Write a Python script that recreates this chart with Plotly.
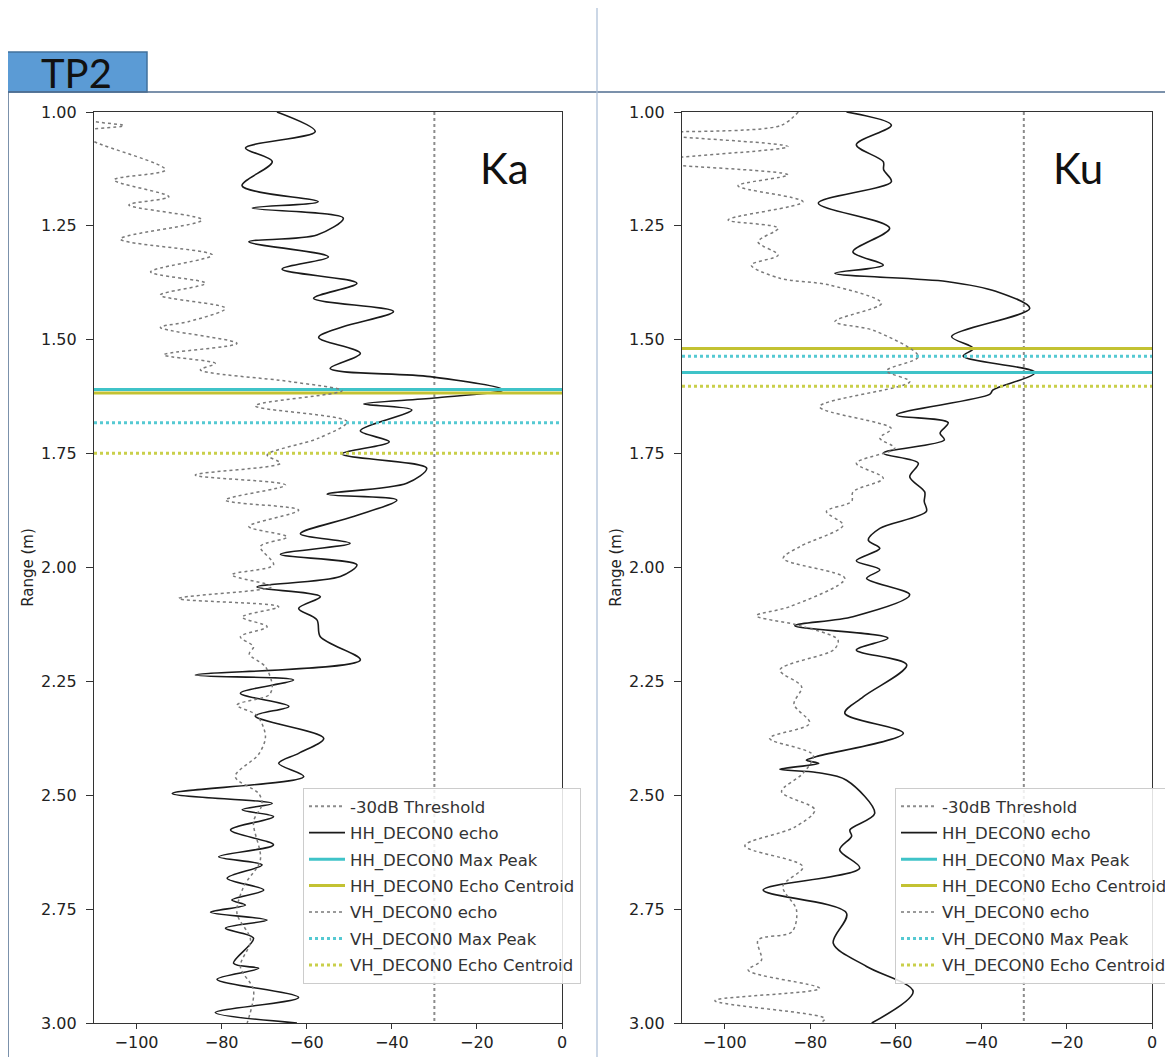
import plotly.graph_objects as go

# The page body has an 8px margin, so the figure is placed 8px in and sized to fit the window.
OFF = 8
W, H = 1173 - OFF, 1057 - OFF

# ---------------- data ----------------
X_RANGE = [-110, 0]
Y_RANGE = [1.0, 3.0]
THRESHOLD_DB = -30
x_ticks = [-100, -80, -60, -40, -20, 0]
y_ticks = [1.00, 1.25, 1.50, 1.75, 2.00, 2.25, 2.50, 2.75, 3.00]

# Ka band
ka_hh_range = [1.000, 1.043, 1.079, 1.109, 1.162, 1.197, 1.211, 1.233, 1.270, 1.285, 1.318, 1.345,
               1.376, 1.409, 1.438, 1.471, 1.495, 1.530, 1.563, 1.581, 1.610, 1.628, 1.641, 1.654,
               1.700, 1.724, 1.751, 1.782, 1.815, 1.839, 1.852, 1.888, 1.926, 1.947, 1.971, 1.994,
               2.020, 2.043, 2.064, 2.090, 2.115, 2.152, 2.203, 2.236, 2.247, 2.276, 2.305, 2.326,
               2.375, 2.408, 2.430, 2.459, 2.496, 2.518, 2.532, 2.547, 2.576, 2.609, 2.635, 2.653,
               2.682, 2.708, 2.730, 2.741, 2.757, 2.774, 2.792, 2.814, 2.869, 2.880, 2.904, 2.944,
               2.977, 3.000]
ka_hh_db = [-67.0, -58.0, -74.4, -68.1, -75.2, -57.3, -72.8, -51.4, -57.6, -73.6, -54.9, -65.8,
            -48.2, -58.4, -39.6, -51.3, -57.2, -47.4, -54.5, -31.0, -13.8, -30.0, -46.6, -35.3,
            -47.4, -40.6, -51.7, -31.8, -36.5, -55.2, -38.8, -49.0, -61.5, -49.8, -66.2, -48.2,
            -52.1, -71.7, -56.8, -61.9, -57.6, -56.8, -47.4, -86.2, -63.1, -75.6, -64.2, -72.1,
            -56.0, -61.9, -66.6, -60.7, -91.6, -68.1, -75.2, -67.8, -77.9, -67.8, -80.7, -70.5,
            -78.7, -70.1, -77.6, -74.4, -82.6, -69.3, -79.1, -72.5, -77.2, -71.3, -81.1, -61.9,
            -81.5, -62.3]

ka_vh_range = [1.000, 1.015, 1.030, 1.044, 1.065, 1.127, 1.149, 1.186, 1.204, 1.237, 1.279, 1.314,
               1.351, 1.376, 1.402, 1.431, 1.460, 1.473, 1.508, 1.533, 1.552, 1.566, 1.592, 1.612,
               1.645, 1.680, 1.716, 1.753, 1.771, 1.797, 1.819, 1.852, 1.874, 1.910, 1.933, 1.954,
               1.994, 2.016, 2.042, 2.068, 2.086, 2.109, 2.130, 2.152, 2.174, 2.190, 2.218, 2.261,
               2.280, 2.302, 2.325, 2.371, 2.410, 2.459, 2.496, 2.520, 2.558, 2.642, 2.700, 2.759,
               2.818, 2.876, 2.928, 3.000]
ka_vh_db = [-112.0, -112.0, -103.0, -114.0, -110.0, -93.2, -105.3, -92.4, -101.8, -84.6, -103.8, -82.2,
            -96.7, -83.8, -94.4, -79.1, -87.7, -94.4, -76.4, -93.6, -81.5, -85.0, -63.8, -51.7,
            -72.1, -50.5, -57.2, -69.3, -66.2, -86.2, -65.0, -79.1, -61.9, -73.6, -64.6, -70.9,
            -67.8, -77.6, -68.1, -90.1, -66.6, -75.2, -69.3, -75.6, -72.5, -73.5, -69.7, -68.1,
            -68.9, -76.4, -71.7, -69.7, -71.3, -76.8, -71.3, -70.5, -72.5, -70.9, -74.8, -76.4,
            -73.2, -75.6, -72.5, -74.0]

ka_hh_max_peak = 1.609
ka_hh_centroid = 1.617
ka_vh_max_peak = 1.682
ka_vh_centroid = 1.749

# Ku band
ku_hh_range = [1.000, 1.029, 1.072, 1.109, 1.127, 1.153, 1.200, 1.255, 1.307, 1.336, 1.354, 1.372,
               1.394, 1.431, 1.493, 1.519, 1.536, 1.572, 1.610, 1.620, 1.665, 1.682, 1.705, 1.720,
               1.749, 1.771, 1.801, 1.834, 1.855, 1.877, 1.914, 1.940, 1.958, 1.985, 2.005, 2.024,
               2.060, 2.108, 2.128, 2.155, 2.181, 2.214, 2.284, 2.320, 2.364, 2.415, 2.423, 2.430,
               2.443, 2.450, 2.467, 2.540, 2.576, 2.590, 2.620, 2.660, 2.708, 2.759, 2.825, 2.876,
               2.931, 3.000]
ku_hh_db = [-71.5, -61.0, -69.2, -62.9, -62.8, -61.0, -78.1, -61.4, -70.0, -62.9, -74.2, -48.1,
            -36.4, -28.6, -46.9, -41.8, -44.2, -27.4, -37.2, -38.0, -59.8, -47.7, -49.6, -48.6,
            -62.9, -54.7, -56.7, -53.2, -53.3, -52.8, -63.7, -66.4, -63.7, -69.2, -63.7, -66.8,
            -56.7, -70.0, -83.6, -61.8, -69.2, -57.4, -67.6, -71.9, -58.2, -78.5, -80.9, -78.0,
            -87.1, -78.5, -71.5, -64.9, -70.7, -70.3, -73.1, -68.4, -91.0, -71.5, -74.6, -66.8,
            -55.9, -65.6]

ku_vh_range = [1.000, 1.030, 1.047, 1.076, 1.109, 1.138, 1.162, 1.197, 1.237, 1.255, 1.285, 1.314,
               1.336, 1.365, 1.380, 1.420, 1.460, 1.480, 1.537, 1.568, 1.592, 1.647, 1.695, 1.716,
               1.738, 1.771, 1.804, 1.834, 1.855, 1.877, 1.907, 1.954, 1.980, 2.024, 2.086, 2.106,
               2.126, 2.159, 2.180, 2.225, 2.262, 2.300, 2.342, 2.375, 2.412, 2.452, 2.492, 2.532,
               2.570, 2.611, 2.657, 2.700, 2.752, 2.800, 2.818, 2.862, 2.884, 2.924, 2.951, 2.990,
               3.000]
ku_vh_db = [-82.8, -87.0, -118.0, -85.2, -118.0, -85.2, -96.9, -81.7, -99.2, -87.5, -92.2, -87.5,
            -93.8, -87.1, -75.4, -63.3, -74.2, -65.0, -54.7, -62.1, -56.7, -77.8, -61.0, -63.7,
            -60.2, -69.2, -62.9, -70.0, -70.3, -76.2, -72.3, -82.4, -86.3, -71.9, -84.8, -92.6,
            -83.2, -73.5, -74.4, -87.1, -82.0, -83.8, -80.1, -89.5, -79.3, -81.7, -86.7, -78.9,
            -83.6, -95.3, -81.7, -86.4, -83.2, -84.3, -92.2, -91.4, -94.5, -77.8, -102.3, -76.6,
            -77.5]

ku_hh_max_peak = 1.572
ku_hh_centroid = 1.519
ku_vh_max_peak = 1.536
ku_vh_centroid = 1.602

legend_names = ["-30dB Threshold", "HH_DECON0 echo", "HH_DECON0 Max Peak",
                "HH_DECON0 Echo Centroid", "VH_DECON0 echo", "VH_DECON0 Max Peak",
                "VH_DECON0 Echo Centroid"]

# ---------------- styling ----------------
CYAN = "#3fc3c8"
OLIVE = "#c3c232"
CYAN_DOT = "#55c9d2"
OLIVE_DOT = "#c9cf4a"
GRAY = "#8c8c8c"
FONT = "DejaVu Sans"


def px(x):
    return (x - OFF) / W


def py(y):
    return 1 - (y - OFF) / H


fig = go.Figure()


def add_panel(xa, ya, leg, hh_r, hh_db, vh_r, vh_db, hh_pk, hh_ct, vh_pk, vh_ct):
    def common(i):
        return dict(xaxis=xa, yaxis=ya, legend=leg, hoverinfo="skip",
                    name=legend_names[i], legendgroup=f"{leg}_{i}")
    fig.add_trace(go.Scatter(x=[THRESHOLD_DB, THRESHOLD_DB], y=Y_RANGE, mode="lines",
                             line=dict(color=GRAY, width=2, dash="dot"), **common(0)))
    fig.add_trace(go.Scatter(x=hh_db, y=hh_r, mode="lines",
                             line=dict(color="#1a1a1a", width=1.6, shape="spline", smoothing=0.9),
                             **common(1)))
    fig.add_trace(go.Scatter(x=X_RANGE, y=[hh_pk, hh_pk], mode="lines",
                             line=dict(color=CYAN, width=3), **common(2)))
    fig.add_trace(go.Scatter(x=X_RANGE, y=[hh_ct, hh_ct], mode="lines",
                             line=dict(color=OLIVE, width=3), **common(3)))
    fig.add_trace(go.Scatter(x=vh_db, y=vh_r, mode="lines",
                             line=dict(color="#7a7a7a", width=1.5, dash="dot", shape="spline", smoothing=0.9),
                             **common(4)))
    fig.add_trace(go.Scatter(x=X_RANGE, y=[vh_pk, vh_pk], mode="lines",
                             line=dict(color=CYAN_DOT, width=3, dash="dot"), **common(5)))
    fig.add_trace(go.Scatter(x=X_RANGE, y=[vh_ct, vh_ct], mode="lines",
                             line=dict(color=OLIVE_DOT, width=3, dash="dot"), **common(6)))


add_panel("x", "y", "legend", ka_hh_range, ka_hh_db, ka_vh_range, ka_vh_db,
          ka_hh_max_peak, ka_hh_centroid, ka_vh_max_peak, ka_vh_centroid)
add_panel("x2", "y2", "legend2", ku_hh_range, ku_hh_db, ku_vh_range, ku_vh_db,
          ku_hh_max_peak, ku_hh_centroid, ku_vh_max_peak, ku_vh_centroid)

y_dom = [py(1023), py(112)]

xaxis_common = dict(range=X_RANGE, tickvals=x_ticks,
                    ticktext=[("\u2212" + str(-v)) if v < 0 else str(v) for v in x_ticks],
                    showgrid=False, zeroline=False, showline=True, linecolor="#333", linewidth=1.2,
                    mirror=True, ticks="outside", ticklen=5, tickcolor="#333", ticklabelstandoff=0,
                    tickfont=dict(family=FONT, size=16, color="#222"))
yaxis_common = dict(range=[Y_RANGE[1], Y_RANGE[0]], tickvals=y_ticks, tickformat=".2f",
                    showgrid=False, zeroline=False, showline=True, linecolor="#333", linewidth=1.2,
                    mirror=True, ticks="outside", ticklen=7, tickcolor="#333", ticklabelstandoff=6,
                    tickfont=dict(family=FONT, size=16, color="#222"),
                    title=dict(text="Range (m)", font=dict(family=FONT, size=15, color="#222"), standoff=3))

legend_common = dict(xanchor="left", yanchor="top", bgcolor="rgba(255,255,255,0.85)",
                     bordercolor="#cccccc", borderwidth=1, tracegroupgap=2,
                     font=dict(family=FONT, size=16.5, color="#333"), itemwidth=36)

fig.update_layout(
    width=W, height=H, autosize=False,
    margin=dict(l=0, r=0, t=0, b=0, autoexpand=False),
    paper_bgcolor="white", plot_bgcolor="white",
    xaxis=dict(domain=[px(94), px(562)], anchor="y", **xaxis_common),
    yaxis=dict(domain=y_dom, anchor="x", **yaxis_common),
    xaxis2=dict(domain=[px(682), px(1152)], anchor="y2", **xaxis_common),
    yaxis2=dict(domain=y_dom, anchor="x2", **yaxis_common),
    legend=dict(x=px(303), y=py(788), **legend_common),
    legend2=dict(x=px(895), y=py(788), **legend_common),
    showlegend=True,
)

# slide decorations
shapes = [
    dict(type="rect", xref="paper", yref="paper", x0=px(7), x1=px(147), y0=py(92), y1=py(52),
         fillcolor="#5b9bd5", line=dict(color="#41719c", width=1.5), layer="below"),
    dict(type="line", xref="paper", yref="paper", x0=px(7), x1=1, y0=py(92), y1=py(92),
         line=dict(color="#4f6d8f", width=1.5)),
    dict(type="line", xref="paper", yref="paper", x0=px(8), x1=px(8), y0=0, y1=py(92),
         line=dict(color="#4f6d8f", width=1.5)),
    dict(type="line", xref="paper", yref="paper", x0=px(597), x1=px(597), y0=0, y1=py(8),
         line=dict(color="#a9bdd6", width=1.2)),
]
fig.update_layout(shapes=shapes)

fig.add_annotation(x=px(76), y=py(73), xref="paper", yref="paper", text="TP2", showarrow=False,
                   font=dict(family="Lato", size=40, color="#111"), xanchor="center", yanchor="middle")
fig.add_annotation(x=px(504), y=py(168), xref="paper", yref="paper", text="Ka", showarrow=False,
                   font=dict(family="Lato", size=42, color="#111"), xanchor="center", yanchor="middle")
fig.add_annotation(x=px(1078), y=py(168), xref="paper", yref="paper", text="Ku", showarrow=False,
                   font=dict(family="Lato", size=42, color="#111"), xanchor="center", yanchor="middle")

fig.write_html("out.html")
